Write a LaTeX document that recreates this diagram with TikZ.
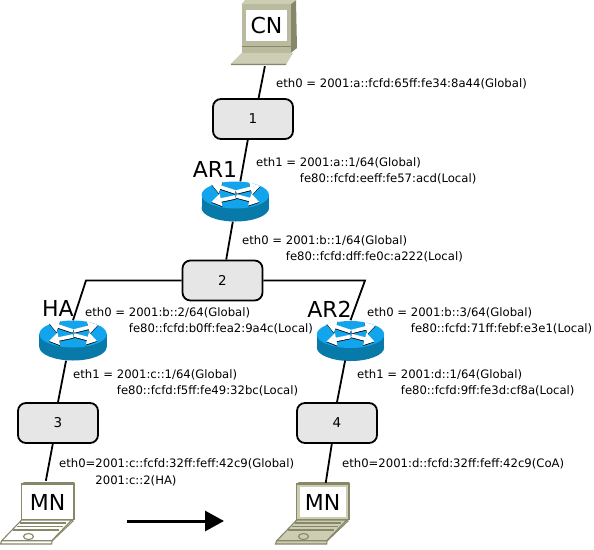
\documentclass[tikz,border=0pt]{standalone}
\usepackage{fontspec}
\setmainfont{DejaVu Sans}
\usepackage{xcolor}
\usetikzlibrary{arrows.meta}
\definecolor{routertop}{RGB}{18, 165, 238}
\definecolor{routerside}{RGB}{8, 122, 170}
\definecolor{boxgray}{RGB}{230, 230, 230}
\definecolor{pcface}{RGB}{186, 186, 158}
\definecolor{pcdark}{RGB}{135, 135, 105}
\definecolor{pclight}{RGB}{205, 205, 180}
\tikzset{
    routerbox/.style={draw, line width=1.8pt, fill=boxgray, rounded corners=8pt, minimum width=80pt, minimum height=40pt, inner sep=0pt, font=\fontsize{13.5}{15}\selectfont},
    iconbox/.style={inner sep=0pt, minimum width=#1, minimum height=42pt, font=\fontsize{22}{24}\selectfont},
    biglabel/.style={inner sep=0pt, font=\fontsize{22}{24}\selectfont},
    addr/.style={inner sep=0pt, anchor=west, align=left, font=\fontsize{11.65}{16.5}\selectfont},
    link/.style={line width=1.8pt}
}
% one router: centre of the top ellipse at (#1,#2)
\newcommand{\drawrouter}[2]{
    \begin{scope}[shift={(#1,#2)}]
        \fill[routerside] (0,13) ellipse[x radius=33.7, y radius=13.5];
        \fill[routerside] (-33.7,0) rectangle (33.7,13);
        \fill[routertop] (0,0) ellipse[x radius=33.7, y radius=13.5];
        \foreach \ax/\ay/\bx/\by in {0/-3/-24/-11, 1/-3/25/-9, 0/2/-24/7, 1/1/24/7} {
            \draw[black, line width=3.6pt, -{Triangle[length=10pt,width=12pt]}] (\ax,\ay+0.8) -- (\bx,\by+0.8);
            \draw[white, line width=3.6pt, -{Triangle[length=10pt,width=12pt]}] (\ax,\ay) -- (\bx,\by);
        }
    \end{scope}
}
% one laptop: #1 is the shift to the right, #2 body colour, #3 line colour
\newcommand{\drawlaptop}[3]{
    \begin{scope}[shift={(#1,0)}, draw=#3, line width=1.1pt]
        \filldraw[fill=#2] (0.5,544) -- (1.7,540.7) -- (21.7,520) -- (71.7,520) -- (73,521) -- (52,541) -- (51.7,544) -- cycle;
        \draw (1.7,540.7) -- (51.7,540.7) -- (71.7,520);
        \foreach \ya/\xa/\xb in {523/20/66, 526.5/17/63, 530/13/59} {
            \draw[line width=1.4pt] (\xa,\ya) -- (\xb,\ya);
        }
        \draw (28.5,536.5) ellipse[x radius=5, y radius=3];
        \filldraw[fill=#2] (21.7,484) -- (74,484) -- (74,519.5) -- (21.7,519.5) -- cycle;
        \fill[white] (25,487.3) rectangle (70.5,516.7);
        \draw[line width=0.6pt] (21.7,484) -- (24,482.5) -- (74,482.5) -- (74,484);
    \end{scope}
}

\begin{document}
\begin{tikzpicture}[x=1pt, y=-1pt]
    \useasboundingbox (0,0) rectangle (594,549);

    % Computer
    \fill[pcdark] (290.7,4) -- (296,0) -- (297,48) -- (290.7,53) -- cycle;
    \fill[pclight] (241.7,4) -- (245,0) -- (296,0) -- (290.7,4) -- cycle;
    \fill[pcface] (241.7,4) rectangle (290.7,53);
    \fill[white] (245.7,10) rectangle (286.7,40.7);
    \draw[pcdark, line width=0.8pt] (241.7,46) -- (290.7,46);
    \fill[pclight] (231,63.5) -- (241.7,53) -- (293,53) -- (286.7,63.5) -- cycle;
    \fill[pcdark] (231,63.5) -- (286.7,63.5) -- (286,65) -- (231,65) -- cycle;

    % Routers and laptops
    \drawrouter{235.3}{195}
    \drawrouter{73}{334}
    \drawrouter{350.5}{334.5}
    \drawlaptop{0}{white}{pcdark}
    \drawlaptop{275}{pclight}{pcdark}

    % Nodes
    \node[iconbox=60pt, minimum height=62pt] (cn) at (266,35) {};
    \node[biglabel] (cnlabel) at (266.5,25.5) {CN};
    \node[routerbox] (r1) at (253,119) {1};
    \node[routerbox] (r2) at (222.5,280.5) {2};
    \node[routerbox] (r3) at (58,423) {3};
    \node[routerbox] (r4) at (337,423) {4};
    \node[iconbox=68pt, minimum height=40pt] (ar1) at (235.3,201.5) {};
    \node[iconbox=68pt, minimum height=40pt] (ha) at (73,340.5) {};
    \node[iconbox=68pt, minimum height=40pt] (ar2) at (350.5,340.5) {};
    \node[iconbox=52pt] (mn1) at (47.7,502) {MN};
    \node[iconbox=52pt, minimum height=38pt] (mn2) at (322.7,502) {MN};
    \node[biglabel] (ar1label) at (215,169) {AR1};
    \node[biglabel] (halabel) at (58,308) {HA};
    \node[biglabel] (ar2label) at (329.5,309.5) {AR2};

    \coordinate (bendl) at (86,280.5);
    \coordinate (bendr) at (365,280.5);
    \coordinate (movefrom) at (127,521);
    \coordinate (moveto) at (224,521);

    % Links
    \draw[link] (cn.268) -- (r1.75);
    \draw[link] (r1.256) -- (ar1.76);
    \draw[link] (ar1.263) -- (r2.80);
    \draw[link] (r2.west) -- (bendl) -- (ha.north);
    \draw[link] (r2.east) -- (bendr) -- (ar2.north);
    \draw[link] (ha.251) -- (r3.north);
    \draw[link] (ar2.255) -- (r4.north);
    \draw[link] (r3.256) -- (mn1.95);
    \draw[link] (r4.256) -- (mn2.81);
    \draw[line width=3pt, -{Triangle[length=19pt,width=20pt]}] (movefrom) -- (moveto);

    % Addresses
    \node[addr] (acn) at (276,84) {eth0 = 2001:a::fcfd:65ff:fe34:8a44(Global)};
    \node[addr] (aar1) at (256,171) {eth1 = 2001:a::1/64(Global)\\\phantom{eth1 = }fe80::fcfd:eeff:fe57:acd(Local)};
    \node[addr] (ar2up) at (242,249) {eth0 = 2001:b::1/64(Global)\\\phantom{eth0 = }fe80::fcfd:dff:fe0c:a222(Local)};
    \node[addr] (ahaup) at (85,321) {eth0 = 2001:b::2/64(Global)\\\phantom{eth0 = }fe80::fcfd:b0ff:fea2:9a4c(Local)};
    \node[addr] (aar2up) at (367,321) {eth0 = 2001:b::3/64(Global)\\\phantom{eth0 = }fe80::fcfd:71ff:febf:e3e1(Local)};
    \node[addr] (aha) at (73,383) {eth1 = 2001:c::1/64(Global)\\\phantom{eth1 = }fe80::fcfd:f5ff:fe49:32bc(Local)};
    \node[addr] (aar2) at (357,383) {eth1 = 2001:d::1/64(Global)\\\phantom{eth1 = }fe80::fcfd:9ff:fe3d:cf8a(Local)};
    \node[addr] (amn1) at (59,472.5) {eth0=2001:c::fcfd:32ff:feff:42c9(Global)\\\phantom{eth0=}2001:c::2(HA)};
    \node[addr] (amn2) at (342,464) {eth0=2001:d::fcfd:32ff:feff:42c9(CoA)};
\end{tikzpicture}
\end{document}
